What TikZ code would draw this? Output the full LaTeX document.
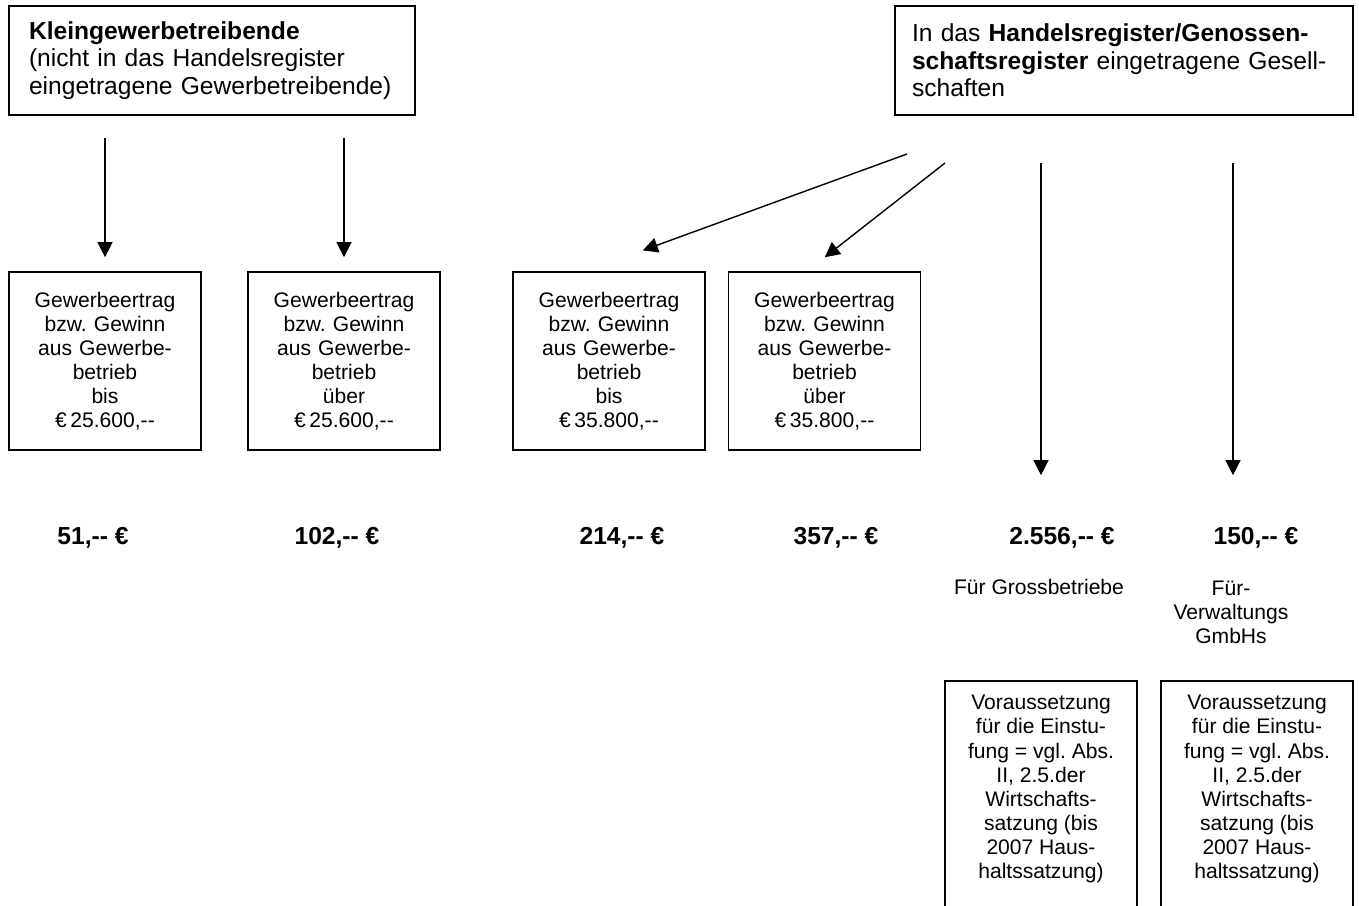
\documentclass[tikz,border=0pt]{standalone}
\usepackage{fontspec}
\setmainfont{Liberation Sans}
\usetikzlibrary{arrows.meta, positioning}
\newcommand{\dblhyph}{-\kern0pt-}

\begin{document}
\begin{tikzpicture}[x=0.02cm, y=-0.02cm,
		txt/.style={font=\fontsize{12}{13.7}\selectfont\frenchspacing},
		head/.style={rectangle, draw, line width=1pt, font=\fontsize{14}{15.7}\selectfont, align=left, minimum height=2.18cm},
		gbox/.style={rectangle, draw, line width=1pt, txt, align=center, text width=3.84cm, inner xsep=0pt, minimum height=3.56cm},
		vbox/.style={rectangle, draw, line width=1pt, minimum width=3.84cm, minimum height=5cm, anchor=north},
		amt/.style={font=\fontsize{14}{16}\selectfont\bfseries, inner sep=0pt},
		arr/.style={line width=0.8pt, -{Triangle[length=0.3cm, width=0.3cm]}}]
		
		\clip (0,0) rectangle (1359,906);
		
		\node[head, text width=7.32cm, inner xsep=0.4cm] (K) at (212,60.5) {\textbf{Kleingewerbetreibende}\\(nicht in das Handelsregister\\eingetragene Gewerbetreibende)};
		\node[head, text width=8.48cm, inner xsep=0.34cm] (H) at (1124,60.5) {In das \textbf{Handelsregister/Genossen-}\\\textbf{schaftsregister} eingetragene Gesell-\\schaften};
		
		\node[gbox] (G1) at (105,361) {Gewerbeertrag\\bzw. Gewinn\\aus Gewerbe-\\betrieb\\bis\\€\,25.600,\dblhyph};
		\node[gbox] (G2) at (344,361) {Gewerbeertrag\\bzw. Gewinn\\aus Gewerbe-\\betrieb\\über\\€\,25.600,\dblhyph};
		\node[gbox] (G3) at (609,361) {Gewerbeertrag\\bzw. Gewinn\\aus Gewerbe-\\betrieb\\bis\\€\,35.800,\dblhyph};
		\node[gbox] (G4) at (824.5,361) {Gewerbeertrag\\bzw. Gewinn\\aus Gewerbe-\\betrieb\\über\\€\,35.800,\dblhyph};
		
		\node[amt] (A1) at (93,538) {51,\dblhyph{} €};
		\node[amt] (A2) at (337,538) {102,\dblhyph{} €};
		\node[amt] (A3) at (622,538) {214,\dblhyph{} €};
		\node[amt] (A4) at (836,538) {357,\dblhyph{} €};
		\node[amt] (A5) at (1062,538) {2.556,\dblhyph{} €};
		\node[amt] (A6) at (1256,538) {150,\dblhyph{} €};
		
		\node[txt] (F1) at (1039,587) {Für Grossbetriebe};
		\node[txt, align=center] (F2) at (1231,612) {Für-\\Verwaltungs\\GmbHs};
		
		\node[vbox] (V1) at (1041,680) {};
		\node[vbox] (V2) at (1257,680) {};
		\node[txt, align=center, inner sep=0pt, below=0.3cm of V1.north] (T1) {Voraussetzung\\für die Einstu-\\fung = vgl. Abs.\\II, 2.5.der\\Wirtschafts-\\satzung (bis\\2007 Haus-\\haltssatzung)};
		\node[txt, align=center, inner sep=0pt, below=0.3cm of V2.north] (T2) {Voraussetzung\\für die Einstu-\\fung = vgl. Abs.\\II, 2.5.der\\Wirtschafts-\\satzung (bis\\2007 Haus-\\haltssatzung)};
		
		\coordinate (S1) at (105,138);
		\coordinate (S2) at (344,138);
		\coordinate (S3) at (907,154);
		\coordinate (S4) at (945,163);
		\coordinate (S5) at (1041,163);
		\coordinate (S6) at (1233,163);
		
		\draw[arr, shorten >=0.28cm] (S1) -- (G1);
		\draw[arr, shorten >=0.28cm] (S2) -- (G2);
		\draw[arr, shorten >=1.21cm] (S3) -- ([xshift=-0.46cm]G3.north);
		\draw[arr, shorten >=0.45cm] (S4) -- ([xshift=-0.35cm]G4.north);
		\draw[arr, shorten >=1.04cm] (S5) -- (S5 |- A5.north);
		\draw[arr, shorten >=1.04cm] (S6) -- (S6 |- A6.north);
		
	\end{tikzpicture}
\end{document}
